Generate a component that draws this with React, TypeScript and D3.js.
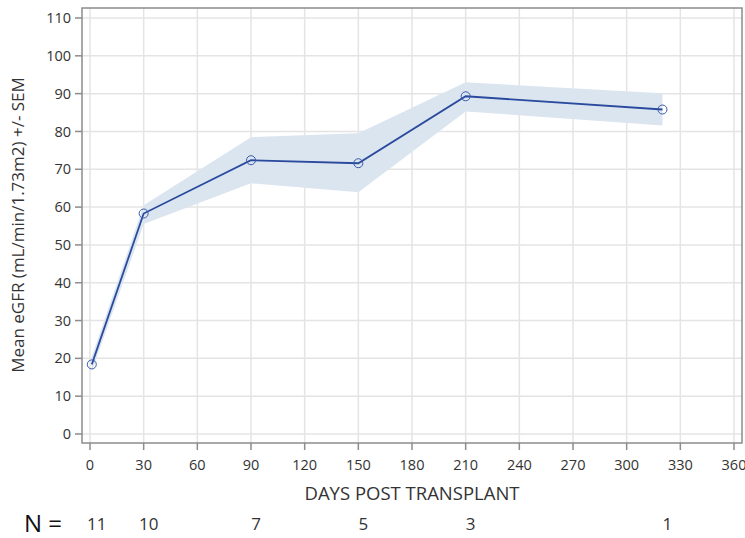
import React from "react";
import * as d3 from "d3";

const days = [1, 30, 90, 150, 210, 320];
const meanEgfr = [18.4, 58.3, 72.4, 71.6, 89.3, 85.8];
const semLower = [16.5, 55.5, 66.3, 63.9, 85.3, 81.6];
const semUpper = [20.5, 60.5, 78.5, 79.5, 93.0, 90.1];
const nAtRisk = ["11", "10", "7", "5", "3", "1"];
const xTicks = d3.range(0, 361, 30);
const yTicks = d3.range(0, 111, 10);

const W = 745;
const H = 538;
const frame = { left: 82, top: 8, right: 742, bottom: 443 };
const font = "'Open Sans', 'DejaVu Sans', sans-serif";
const blue = "#2a4a9e";

export default function App() {
  const x = d3.scaleLinear().domain([0, 360]).range([90, 734]);
  const y = d3.scaleLinear().domain([0, 110]).range([434, 18]);

  const pts = days.map((d, i) => ({ d, m: meanEgfr[i], lo: semLower[i], hi: semUpper[i] }));

  const band = d3
    .area<(typeof pts)[number]>()
    .x((p) => x(p.d))
    .y0((p) => y(p.lo))
    .y1((p) => y(p.hi));

  const line = d3
    .line<(typeof pts)[number]>()
    .x((p) => x(p.d))
    .y((p) => y(p.m));

  return (
    <svg
      width={W}
      height={H}
      style={{ position: "absolute", left: 0, top: 0, background: "#fff" }}
      fontFamily={font}
    >
      {/* grid */}
      {xTicks.map((t) => (
        <line key={"gx" + t} x1={x(t)} x2={x(t)} y1={frame.top} y2={frame.bottom} stroke="#e4e4e4" strokeWidth={1.5} />
      ))}
      {yTicks.map((t) => (
        <line key={"gy" + t} x1={frame.left} x2={frame.right} y1={y(t)} y2={y(t)} stroke="#e4e4e4" strokeWidth={1.5} />
      ))}

      <path d={band(pts) || ""} fill="#dbe5f0" />
      <path d={line(pts) || ""} fill="none" stroke={blue} strokeWidth={1.8} />
      {pts.map((p) => (
        <circle key={p.d} cx={x(p.d)} cy={y(p.m)} r={4.5} fill="none" stroke="#3a5aa8" strokeWidth={1} />
      ))}

      {/* frame */}
      <rect
        x={frame.left}
        y={frame.top}
        width={frame.right - frame.left}
        height={frame.bottom - frame.top}
        fill="none"
        stroke="#8c8c8c"
        strokeWidth={1.5}
      />

      {/* y axis */}
      {yTicks.map((t) => (
        <g key={"yt" + t}>
          <line x1={frame.left - 7} x2={frame.left} y1={y(t)} y2={y(t)} stroke="#8c8c8c" strokeWidth={1.5} />
          <text x={frame.left - 11} y={y(t)} dy="0.35em" textAnchor="end" fontSize={14.5} fill="#333">
            {t}
          </text>
        </g>
      ))}
      <text
        transform={`translate(24,225) rotate(-90)`}
        textAnchor="middle"
        fontSize={17}
        fill="#333"
      >
        Mean eGFR (mL/min/1.73m2) +/- SEM
      </text>

      {/* x axis */}
      {xTicks.map((t) => (
        <g key={"xt" + t}>
          <line x1={x(t)} x2={x(t)} y1={frame.bottom} y2={frame.bottom + 7} stroke="#8c8c8c" strokeWidth={1.5} />
          <text x={x(t)} y={470} textAnchor="middle" fontSize={14.5} fill="#333">
            {t}
          </text>
        </g>
      ))}
      <text x={412} y={500} textAnchor="middle" fontSize={18.5} fill="#333">
        DAYS POST TRANSPLANT
      </text>

      {/* N at risk */}
      <text x={24} y={532} fontSize={24} fill="#111">
        N =
      </text>
      {days.map((d, i) => (
        <text key={"n" + d} x={x(d) + 5} y={530} textAnchor="middle" fontSize={17} fill="#333">
          {nAtRisk[i]}
        </text>
      ))}
    </svg>
  );
}
